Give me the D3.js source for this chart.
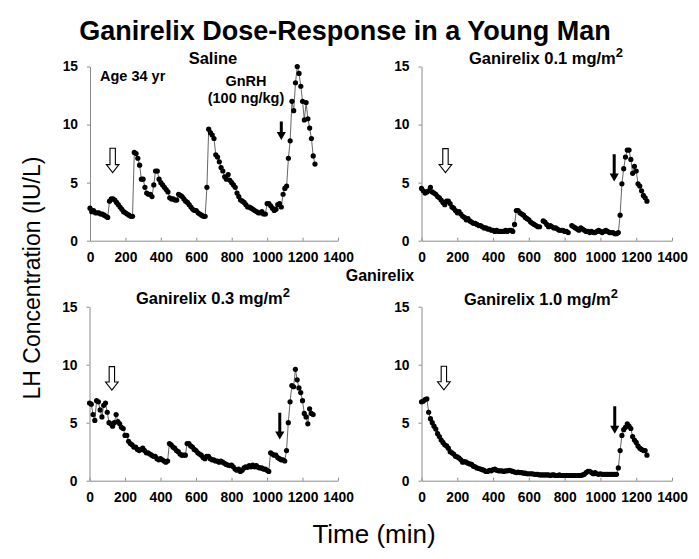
<!DOCTYPE html>
<html>
<head>
<meta charset="utf-8">
<script src="https://cdn.jsdelivr.net/npm/d3@7"></script>
<style>
  html, body { margin: 0; padding: 0; background: #fff; }
  svg { display: block; font-family: "Liberation Sans", Arial, sans-serif; }
</style>
</head>
<body>
<svg id="chart" width="699" height="559"></svg>
<script>
// ---------- DATA ----------
const sampleTimes = [
  0,10,20,30,40,50,60,70,80,90,100,110,120,130,140,150,160,170,180,190,
  200,210,220,230,240,250,260,270,280,290,300,310,320,330,340,350,360,370,380,390,
  400,410,420,430,440,450,460,470,480,490,500,510,520,530,540,550,560,570,580,590,
  600,610,620,630,640,650,660,670,680,690,700,710,720,730,740,750,760,770,780,790,
  800,810,820,830,840,850,860,870,880,890,900,910,920,930,940,950,960,970,980,990,
  1000,1010,1020,1030,1040,1050,1060,1070,1080,1090,1100,1110,1120,1130,1140,1150,1160,1170,1180,1190,
  1200,1210,1220,1230,1240,1250,1260,1270
];

const saline = [
  2.8,2.5,2.6,2.4,2.4,2.4,2.3,2.3,2.2,2.1,
  2.0,3.4,3.6,3.6,3.5,3.3,3.1,2.9,2.7,2.5,
  2.4,2.3,2.2,2.1,2.1,7.6,7.5,7.1,6.5,5.3,
  5.3,4.6,4.1,4.0,4.0,3.8,4.8,6.0,6.0,5.3,
  5.0,4.8,4.6,4.4,4.2,3.7,3.6,3.6,3.5,3.5,
  4.0,3.9,3.8,3.6,3.4,3.3,3.1,2.9,2.7,2.6,
  2.6,2.4,2.3,2.2,2.1,2.1,4.6,9.6,9.3,9.1,
  8.8,7.4,7.2,6.8,6.3,6.0,5.5,5.3,5.7,5.2,
  5.0,4.8,4.6,4.1,3.8,3.5,3.4,3.3,3.1,2.9,
  2.9,2.8,2.7,2.6,2.5,2.4,2.4,2.5,2.3,2.3,
  3.2,3.2,3.0,2.8,2.6,2.7,3.1,3.2,2.9,4.0,
  4.5,4.7,7.1,8.6,12.0,11.2,13.6,15.0,14.4,13.3,
  12.0,10.4,11.9,10.5,9.7,8.8,7.3,6.6
];

const ganirelix01 = [
  4.5,4.3,4.1,4.2,4.3,4.6,4.2,4.1,4.0,3.8,
  3.7,3.5,3.3,3.1,3.4,3.4,3.2,2.9,2.8,2.6,
  2.4,2.5,2.3,2.1,2.0,1.8,1.9,1.7,1.6,1.5,
  1.5,1.4,1.3,1.3,1.2,1.1,1.1,1.0,1.0,0.9,
  0.9,0.8,0.9,0.8,0.8,0.8,0.8,0.9,0.8,0.9,
  0.9,0.8,1.4,2.6,2.6,2.4,2.3,2.2,2.0,1.9,
  1.8,1.6,1.5,1.4,1.3,1.2,1.2,null,1.7,1.6,
  1.4,1.2,1.3,1.2,1.1,1.1,1.0,0.9,0.9,0.9,
  0.8,0.8,0.7,null,1.3,1.2,1.1,1.0,0.9,1.1,
  1.0,0.9,0.8,0.8,0.7,0.8,0.7,0.7,0.8,0.9,
  0.8,0.7,0.8,0.9,0.8,0.7,0.7,0.7,0.6,0.6,
  0.7,2.2,4.9,6.2,7.2,7.8,7.8,7.0,5.8,6.4,
  6.0,4.9,4.7,4.3,3.9,3.7,3.4
];

const ganirelix03 = [
  6.7,6.6,5.7,5.2,6.9,6.8,6.1,5.5,6.5,6.7,
  5.9,5.0,4.9,4.7,5.0,5.7,5.1,4.9,4.6,4.5,
  3.9,3.9,3.4,3.2,3.1,2.9,2.9,2.7,2.6,2.7,
  2.8,2.6,2.4,2.4,2.3,2.2,2.1,2.1,1.9,1.8,
  1.9,1.8,1.7,1.6,1.7,3.2,3.1,2.9,2.8,2.6,
  2.5,2.3,2.2,2.2,2.2,3.2,3.2,3.0,2.9,2.7,
  2.6,2.4,2.3,2.2,2.0,1.9,2.1,2.1,1.9,1.8,
  1.8,1.7,1.7,1.6,1.7,1.6,1.5,1.4,1.35,1.3,
  1.35,1.2,1.0,0.9,1.0,0.8,0.9,1.1,1.2,1.15,
  1.3,1.2,1.35,1.2,1.3,1.15,1.1,1.1,1.0,1.0,
  0.9,0.8,2.4,2.3,2.2,2.2,2.0,1.9,1.8,1.8,
  1.7,2.6,5.0,6.8,8.2,8.1,9.6,8.7,8.0,7.6,
  6.9,5.8,5.5,4.9,6.2,5.8,5.7
];

const ganirelix10 = [
  6.8,6.85,7.0,7.05,5.9,5.35,5.0,4.7,4.45,4.05,
  3.8,3.5,3.3,3.1,3.0,2.8,2.5,2.4,2.3,2.1,
  2.05,1.95,1.8,1.6,1.65,1.6,1.5,1.45,1.4,1.25,
  1.2,1.1,1.05,1.0,0.95,0.9,0.8,0.8,0.9,0.85,
  0.95,1.0,0.9,0.85,0.85,0.85,0.8,0.85,0.85,0.9,
  0.85,0.8,0.75,0.7,0.75,0.7,0.7,0.65,0.65,0.6,
  0.6,0.6,0.6,0.55,0.55,0.55,0.5,0.5,0.5,0.5,
  0.5,0.5,0.45,0.5,0.5,0.45,0.45,0.5,0.45,0.45,
  0.45,0.45,0.45,0.45,0.45,0.45,0.45,0.45,0.45,0.45,
  0.5,0.55,0.7,0.8,0.8,0.7,0.6,0.7,0.6,0.55,
  0.6,0.55,0.55,0.55,0.55,0.55,0.55,0.55,0.55,0.55,
  1.1,2.6,3.9,4.4,4.6,4.9,4.7,4.5,3.8,3.5,
  3.3,3.0,2.8,2.7,2.6,2.6,2.2
];

const panelTitles = ["Saline", "Ganirelix 0.1 mg/m", "Ganirelix 0.3 mg/m", "Ganirelix 1.0 mg/m"];
const panelTitleSup = ["", "2", "2", "2"];
const panelSeries = [saline, ganirelix01, ganirelix03, ganirelix10];

// open arrow (ganirelix injection): [time, top value, tip value]
const openArrows = [[128, 7.96, 5.86], [134, 7.93, 5.87], [126, 9.83, 7.82], [125, 9.86, 7.84]];
// filled arrow (GnRH injection): [time, top value, tip value]
const filledArrows = [[1080, 10.26, 8.68], [1077, 7.44, 5.1], [1072, 5.86, 3.56], [1080, 6.41, 4.05]];

const xTickValues = [0, 200, 400, 600, 800, 1000, 1200, 1400];
const yTickValues = [0, 5, 10, 15];

const chartTitle = "Ganirelix Dose-Response in a Young Man";
const xAxisTitle = "Time (min)";
const yAxisTitle = "LH Concentration (IU/L)";
const middleLabel = "Ganirelix";
const ageLabel = "Age 34 yr";
const gnrhLabel = ["GnRH", "(100 ng/kg)"];

// ---------- LAYOUT ----------
const panelBoxes = [
  {x0: 90,    x1: 338, yb: 240.7, yt: 66.5},
  {x0: 421.5, x1: 672, yb: 240.7, yt: 66.5},
  {x0: 89.5,  x1: 338, yb: 480.7, yt: 306.7},
  {x0: 421.5, x1: 672, yb: 480.7, yt: 306.7}
];
const titleOffsets = [ {cx: 213, by: 63.5}, {cx: 546, by: 63.5}, {cx: 213, by: 303.5}, {cx: 541, by: 305} ];

const svg = d3.select("#chart");
svg.append("rect").attr("width", 699).attr("height", 559).attr("fill", "#fff");

svg.append("text")
  .attr("x", 345).attr("y", 40)
  .attr("text-anchor", "middle")
  .attr("font-size", 27).attr("font-weight", "bold")
  .text(chartTitle);

panelBoxes.forEach((b, i) => {
  const x = d3.scaleLinear().domain([0, 1400]).range([b.x0, b.x1]);
  const y = d3.scaleLinear().domain([0, 15]).range([b.yb, b.yt]);
  const g = svg.append("g");

  // axes
  const ya = g.append("g").attr("transform", `translate(${b.x0},0)`)
    .call(d3.axisLeft(y).tickValues(yTickValues).tickFormat(d3.format("d"))
      .tickSizeInner(3).tickSizeOuter(0).tickPadding(9));
  const xa = g.append("g").attr("transform", `translate(0,${b.yb})`)
    .call(d3.axisBottom(x).tickValues(xTickValues).tickFormat(d3.format("d"))
      .tickSizeInner(-3).tickSizeOuter(0).tickPadding(12));
  [ya, xa].forEach(a => {
    a.select(".domain").attr("stroke", "#8a8a8a").attr("stroke-width", 1);
    a.selectAll(".tick line").attr("stroke", "#8a8a8a");
    a.selectAll(".tick text").attr("fill", "#000").attr("font-size", 13.8).attr("font-weight", "bold")
      .attr("font-family", "Liberation Sans, Arial, sans-serif");
  });

  // series
  const vals = panelSeries[i];
  const pts = sampleTimes.map((t, k) => ({t, v: vals[k]})).filter(d => d.v !== undefined);
  const line = d3.line().defined(d => d.v !== null).x(d => x(d.t)).y(d => y(d.v));
  g.append("path").datum(pts).attr("d", line)
    .attr("fill", "none").attr("stroke", "#555").attr("stroke-width", 0.9);
  g.selectAll("circle").data(pts.filter(d => d.v !== null)).join("circle")
    .attr("cx", d => x(d.t)).attr("cy", d => y(d.v)).attr("r", 2.6).attr("fill", "#000");

  // open arrow
  const oa = openArrows[i];
  {
    const cx = x(oa[0]), top = y(oa[1]), tip = y(oa[2]);
    const hh = 8, hw = 6.3, sw = 2.7;
    const p = `M${cx - sw},${top} L${cx + sw},${top} L${cx + sw},${tip - hh} L${cx + hw},${tip - hh} L${cx},${tip} L${cx - hw},${tip - hh} L${cx - sw},${tip - hh} Z`;
    g.append("path").attr("d", p).attr("fill", "#fff").attr("stroke", "#000").attr("stroke-width", 1.1);
  }
  // filled arrow
  const fa = filledArrows[i];
  {
    const cx = x(fa[0]), top = y(fa[1]), tip = y(fa[2]);
    const hh = 8, hw = 4.6, sw = 1.5;
    const p = `M${cx - sw},${top} L${cx + sw},${top} L${cx + sw},${tip - hh} L${cx + hw},${tip - hh} L${cx},${tip} L${cx - hw},${tip - hh} L${cx - sw},${tip - hh} Z`;
    g.append("path").attr("d", p).attr("fill", "#000");
  }

  // panel title
  const tt = g.append("text")
    .attr("x", titleOffsets[i].cx).attr("y", titleOffsets[i].by)
    .attr("text-anchor", "middle").attr("font-size", 16.5).attr("font-weight", "bold");
  tt.append("tspan").text(panelTitles[i]);
  if (panelTitleSup[i]) tt.append("tspan").attr("dy", -7).attr("font-size", 13).text(panelTitleSup[i]);
});

// annotations in first panel
svg.append("text").attr("x", 100).attr("y", 81)
  .attr("font-size", 14.5).attr("font-weight", "bold").text(ageLabel);
svg.append("text").attr("x", 246).attr("y", 86).attr("text-anchor", "middle")
  .attr("font-size", 14.5).attr("font-weight", "bold").text(gnrhLabel[0]);
svg.append("text").attr("x", 246).attr("y", 102.5).attr("text-anchor", "middle")
  .attr("font-size", 14.5).attr("font-weight", "bold").text(gnrhLabel[1]);

svg.append("text").attr("x", 380).attr("y", 281).attr("text-anchor", "middle")
  .attr("font-size", 16).attr("font-weight", "bold").text(middleLabel);

// axis titles
svg.append("text").attr("x", 374).attr("y", 543).attr("text-anchor", "middle")
  .attr("font-size", 26).text(xAxisTitle);
svg.append("text").attr("transform", "translate(40,278) rotate(-90)")
  .attr("text-anchor", "middle").attr("font-size", 23).text(yAxisTitle);
</script>
</body>
</html>
